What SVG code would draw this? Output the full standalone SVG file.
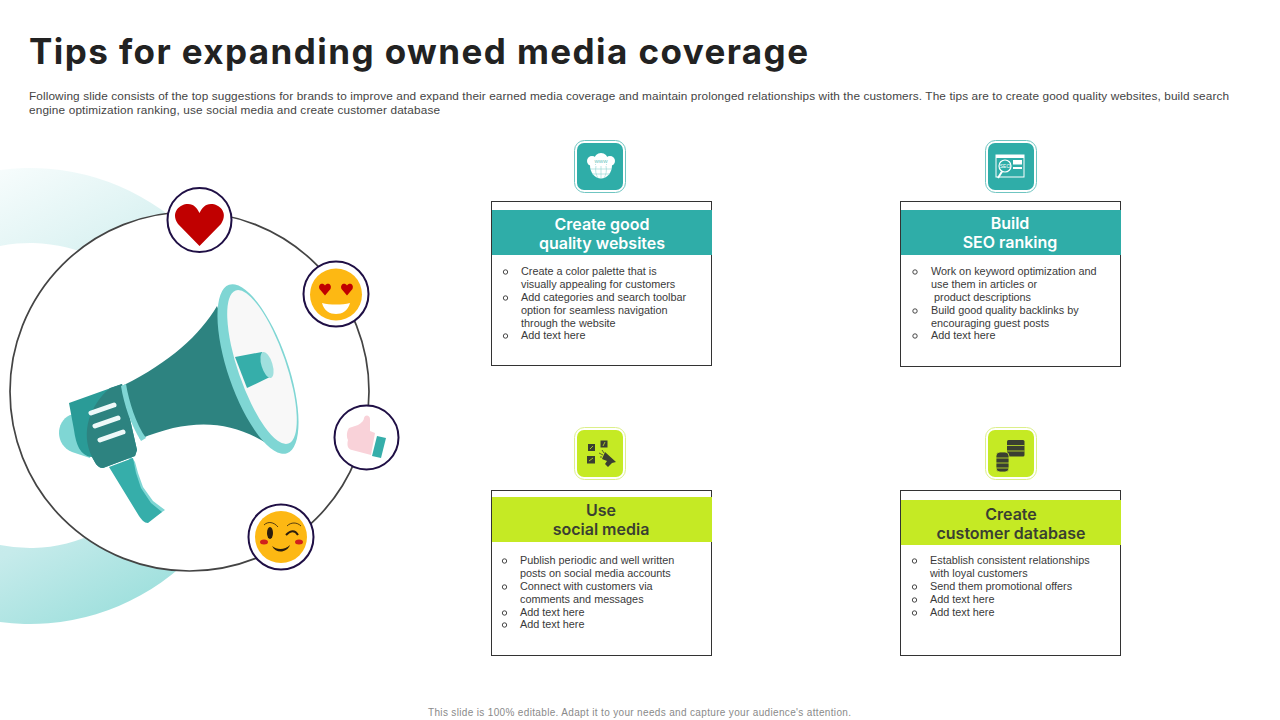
<svg xmlns="http://www.w3.org/2000/svg" width="1280" height="720" viewBox="0 0 1280 720">
<style>
.body{font-family:"Liberation Sans",Arial,sans-serif;font-size:10.85px;fill:#3a3a3a}
.head{font-family:"Inter","Liberation Sans",sans-serif;font-size:16px;font-weight:600;text-anchor:middle}
.box{fill:#fff;stroke:#333;stroke-width:1}
.bul{fill:none;stroke:#333;stroke-width:.9}
.teal{fill:#2fada8}.lime{fill:#c5ea24}
.white{fill:#fff}.dk{fill:#3a3f32}
.badge{fill:#fff;stroke:#1f0f45;stroke-width:2}
.tl{fill:none;stroke:#8fd3d0;stroke-width:.6}
.ll{fill:none;stroke:#c5ea24;stroke-width:.8}
</style>
<defs>
<linearGradient id="ringG" gradientUnits="userSpaceOnUse" x1="-40" y1="170" x2="190" y2="600">
<stop offset="0" stop-color="#fbfefe"/><stop offset=".275" stop-color="#dbf2f2"/><stop offset=".74" stop-color="#c6ebeb"/><stop offset=".96" stop-color="#9fe0dd"/>
</linearGradient>
<circle id="b" r="2.2" class="bul"/>
</defs>
<rect width="1280" height="720" fill="#fff"/>
<text x="29" y="64" font-family="'Inter','Liberation Sans',sans-serif" font-weight="700" font-size="35" fill="#222" textLength="779" lengthAdjust="spacing">Tips for expanding owned media coverage</text>
<g font-family="'Liberation Sans',Arial,sans-serif" font-size="11.8" fill="#444">
<text x="29" y="100" textLength="1200" lengthAdjust="spacing">Following slide consists of the top suggestions for brands to improve and expand their earned media coverage and maintain prolonged relationships with the customers. The tips are to create good quality websites, build search</text>
<text x="29" y="114" textLength="411" lengthAdjust="spacing">engine optimization ranking, use social media and create customer database</text>
</g>

<g id="illustration">
<path d="M0 170A228 228 0 0 1 258 396A228 228 0 0 1 0 622V545A152.500 152.500 0 0 0 182.500 396A152.500 152.500 0 0 0 0 246Z" fill="url(#ringG)"/>
<circle cx="189.500" cy="391.500" r="179.500" fill="#fff" stroke="#444" stroke-width="1.700"/>
<g id="megaphone">
<path d="M70 415C55 422 55 445 72 452L90 458L90 412Z" fill="#7fd6d4"/>
<path d="M130 455L135 462L138 473L143 487L153 501L165 510L150 520L125 480Z" fill="#7fd6d4"/>
<path d="M109 467L133 458L136 473L141 488L151 503L162 512L148 523C144 523 142 520 139 516Z" fill="#36aeaa"/>
<path d="M69 403L122 384L137 450L135 456L103 468C97 468 95 462 92 457C80 456 76 444 74 430Z" fill="#2a9b97"/>
<path d="M110 388L122 384L137 450L135 456L103 468C97 468 95 462 92 457C80 432 90 405 110 388Z" fill="#2d8380"/>
<path d="M124 385C170 362 200 335 217 306L268 444C230 420 190 418 140 439Z" fill="#2d8380"/>
<path d="M121 386L126 384C129 402 136 424 146 438L141 441C131 425 124 405 121 386Z" fill="#7fd6d4"/>
<g stroke="#eef9f9" stroke-width="5" stroke-linecap="round"><path d="M91 413L114 405M95 426L118 418M100 440L123 432"/></g>
<ellipse cx="258" cy="369" rx="30" ry="89" transform="rotate(-19 258 369)" fill="#7fd6d4"/>
<ellipse cx="262" cy="367" rx="24" ry="81" transform="rotate(-19 262 367)" fill="#f8f8f8"/>
<path d="M235 357L262 352L272 376L247 388Z" fill="#36aeaa"/>
<ellipse cx="267" cy="365" rx="5.500" ry="13.500" transform="rotate(-17 267 365)" fill="#a0e0de"/>
</g>
</g>

<g id="badge-heart">
<circle class="badge" cx="199.500" cy="220" r="32"/>
<path d="M199.500 246L178 224C170 212 180 204 188 204C194 204 197 208 199.500 213C202 208 205 204 211 204C219 204 229 212 221 224Z" fill="#c00000"/>
</g>
<g id="badge-love">
<circle class="badge" cx="336" cy="294" r="32.500"/>
<circle cx="336" cy="294.500" r="26" fill="#fdb813"/>
<path d="M325 295.500L319.500 289C317.500 284 323 282 325 285.500C327 282 332.500 284 330.500 289Z" fill="#c00000"/>
<path d="M347 295.500L341.500 289C339.500 284 345 282 347 285.500C349 282 354.500 284 352.500 289Z" fill="#c00000"/>
<path d="M322 303C330 305 342 305 350 303C348 311 342 314 336 314C330 314 324 311 322 303Z" fill="#fff"/>
</g>
<g id="badge-thumb">
<circle class="badge" cx="366.500" cy="437.500" r="32"/>
<path d="M349 428L358 425C362 423 364 420 364 418C365 414 370 415 370 419L370 431L375 433L371 455L352 450C347 449 347 444 348 440C346 436 347 431 349 428Z" fill="#f9d2d9"/>
<path d="M377 436L386 438L381 458L372 456Z" fill="#36aeaa"/>
</g>
<g id="badge-wink">
<circle class="badge" cx="281" cy="537" r="32.500"/>
<circle cx="281" cy="537" r="26" fill="#fdb813"/>
<ellipse cx="270" cy="533" rx="3" ry="6" fill="#2b1d0e"/>
<path d="M264 525C268 521 274 522 278 527M287 526C291 522 297 522 301 526" fill="none" stroke="#2b1d0e" stroke-width=".8"/>
<path d="M286 535C291 530 295 530 298 535" fill="none" stroke="#2b1d0e" stroke-width="2"/>
<ellipse cx="264" cy="542" rx="4" ry="2.500" fill="#d0201c"/><ellipse cx="299" cy="542" rx="4" ry="2.500" fill="#d0201c"/>
<path d="M272 546C277 550 285 550 290 545C287 553 276 554 272 546Z" fill="#2b1d0e"/>
</g>

<g id="card-websites">
<rect x="574.500" y="140.500" width="51" height="52" rx="10" fill="#fff" stroke="#6fc5c1"/>
<rect class="teal" x="577" y="143" width="46" height="47" rx="7"/>
<g class="white"><circle cx="601" cy="160" r="7"/><circle cx="592" cy="161" r="5"/><circle cx="610" cy="161" r="5"/><path d="M590 165H612C612 173 607 178.500 601 178.500C595 178.500 590 173 590 165Z"/></g>
<path class="tl" d="M590 169H612M592 174H610M601 166V178M596 166C595 171 596 175 598 178M606 166C607 171 606 175 604 178"/>
<text x="601" y="163" font-family="'Liberation Sans',sans-serif" font-size="6" fill="#6fc5c1" text-anchor="middle">www</text>
<rect class="box" x="491.500" y="201.500" width="220" height="164"/>
<rect class="teal" x="492" y="210" width="220" height="45"/>
<text class="head" fill="#fff"><tspan x="602" y="230">Create good</tspan><tspan x="602" y="249">quality websites</tspan></text>
<use href="#b" x="505.500" y="272"/><use href="#b" x="505.500" y="298"/><use href="#b" x="505.500" y="336"/>
<text class="body"><tspan x="521" y="275">Create a color palette that is</tspan><tspan x="521" y="288">visually appealing  for customers</tspan><tspan x="521" y="301">Add categories and search toolbar</tspan><tspan x="521" y="314">option  for seamless navigation</tspan><tspan x="521" y="327">through the website</tspan><tspan x="521" y="339">Add text here</tspan></text>
</g>

<g id="card-seo">
<rect x="985.500" y="140.500" width="51" height="52" rx="10" fill="#fff" stroke="#6fc5c1"/>
<rect class="teal" x="988" y="143" width="46" height="47" rx="7"/>
<rect x="996" y="155" width="28" height="22" fill="none" stroke="#fff" stroke-width="1"/>
<rect class="white" x="996" y="155" width="28" height="3"/>
<rect class="white" x="1013" y="160" width="9" height="4.500"/><rect class="white" x="1013" y="167" width="9" height="2"/>
<circle cx="1005" cy="166" r="6" fill="#2fada8" stroke="#fff" stroke-width="1.200"/>
<text x="1005" y="168" font-family="'Liberation Sans',sans-serif" font-size="5" fill="#fff" text-anchor="middle">SEO</text>
<path d="M1002 171.500L998 178" stroke="#fff" stroke-width="2"/>
<rect class="box" x="900.500" y="201.500" width="220" height="165"/>
<rect class="teal" x="901" y="210" width="220" height="45"/>
<text class="head" fill="#fff"><tspan x="1010" y="229">Build</tspan><tspan x="1010" y="248">SEO ranking</tspan></text>
<use href="#b" x="915" y="272"/><use href="#b" x="915" y="311"/><use href="#b" x="915" y="336"/>
<text class="body"><tspan x="931" y="275">Work on keyword optimization and</tspan><tspan x="931" y="288">use them  in articles or</tspan><tspan x="934" y="301">product descriptions</tspan><tspan x="931" y="314">Build  good quality backlinks by</tspan><tspan x="931" y="327">encouraging guest posts</tspan><tspan x="931" y="339">Add text here</tspan></text>
</g>

<g id="card-social">
<rect x="574.500" y="427.500" width="51" height="52" rx="10" fill="#fff" stroke="#dcef8a"/>
<rect class="lime" x="577" y="430" width="46" height="47" rx="7"/>
<rect class="dk" x="588" y="444" width="7" height="7"/><rect class="dk" x="600.500" y="440.500" width="7" height="7"/><rect class="dk" x="587" y="456" width="8" height="7.500"/>
<path class="ll" d="M590 449L593 446M603 446L605 442M589 461L593 458"/>
<path class="dk" d="M605 452L616 462L612 463L608 467L605 464L607 461L602 459Z"/>
<path d="M602 450L604 453M599 453L603 455M600 457L602 457" stroke="#3a3f32" stroke-width=".8" fill="none"/>
<rect class="box" x="491.500" y="490.500" width="220" height="165"/>
<rect class="lime" x="492" y="497" width="220" height="45"/>
<text class="head" fill="#3a3f32"><tspan x="601" y="516">Use</tspan><tspan x="601" y="535">social media</tspan></text>
<use href="#b" x="504.500" y="561"/><use href="#b" x="504.500" y="587"/><use href="#b" x="504.500" y="613"/><use href="#b" x="504.500" y="625"/>
<text class="body"><tspan x="520" y="564">Publish  periodic and well written</tspan><tspan x="520" y="577">posts on social media  accounts</tspan><tspan x="520" y="590">Connect with customers via</tspan><tspan x="520" y="603">comments and messages</tspan><tspan x="520" y="616">Add text here</tspan><tspan x="520" y="628">Add text here</tspan></text>
</g>

<g id="card-database">
<rect x="985.500" y="427.500" width="51" height="52" rx="10" fill="#fff" stroke="#dcef8a"/>
<rect class="lime" x="988" y="430" width="46" height="47" rx="7"/>
<rect class="dk" x="1007" y="440" width="17.500" height="16.500" rx="1.500"/>
<path class="ll" d="M1007 445.500H1024.500M1007 451H1024.500"/>
<rect class="dk" x="996" y="452" width="13" height="20" rx="4" stroke="#c5ea24" stroke-width=".8"/>
<path class="ll" d="M996 458H1009M996 463H1009M996 468H1009"/>
<rect class="box" x="900.500" y="490.500" width="220" height="165"/>
<rect class="lime" x="901" y="500" width="220" height="45"/>
<text class="head" fill="#3a3f32"><tspan x="1011" y="520">Create</tspan><tspan x="1011" y="539">customer database</tspan></text>
<use href="#b" x="914.500" y="561"/><use href="#b" x="914.500" y="587"/><use href="#b" x="914.500" y="600"/><use href="#b" x="914.500" y="613"/>
<text class="body"><tspan x="930" y="564">Establish consistent relationships</tspan><tspan x="930" y="577">with loyal customers</tspan><tspan x="930" y="590">Send them promotional offers</tspan><tspan x="930" y="603">Add text here</tspan><tspan x="930" y="616">Add text here</tspan></text>
</g>

<text x="428" y="716" font-family="'Liberation Sans',Arial,sans-serif" font-size="10" fill="#8a8a8a" textLength="423" lengthAdjust="spacing">This slide is 100% editable.  Adapt it to your needs and capture your audience's attention.</text>
</svg>
